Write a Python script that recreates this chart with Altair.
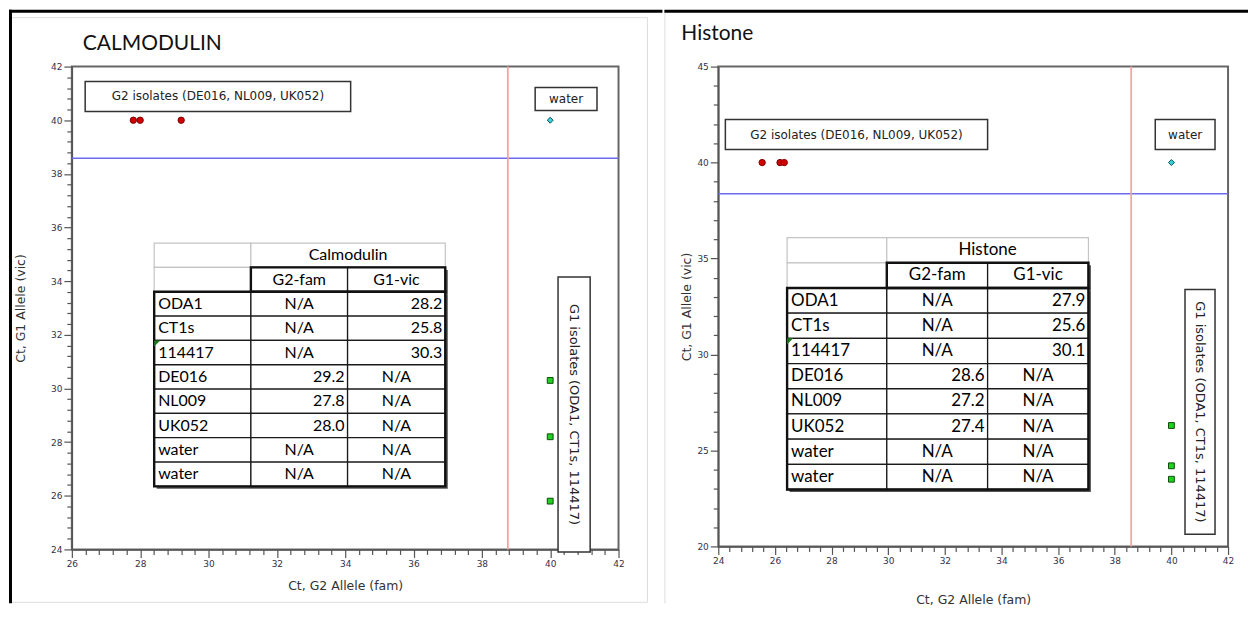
import altair as alt
import pandas as pd

# ---------------- data ----------------
samples = ["ODA1", "CT1s", "114417", "DE016", "NL009", "UK052", "water", "water"]
cal_fam = [None, None, None, 29.2, 27.8, 28.0, None, None]
cal_vic = [28.2, 25.8, 30.3, None, None, None, None, None]
his_fam = [None, None, None, 28.6, 27.2, 27.4, None, None]
his_vic = [27.9, 25.6, 30.1, None, None, None, None, None]

cal_g2_x = [27.8, 28.0, 29.2]
cal_g2_y = [40, 40, 40]
cal_g1_x = [40, 40, 40]
cal_g1_y = [28.2, 25.8, 30.3]
cal_water_x = [40]
cal_water_y = [40]
cal_thr_fam = [38.76]
cal_thr_vic = [38.58]

his_g2_x = [25.55, 26.18, 26.33]
his_g2_y = [40, 40, 40]
his_g1_x = [40, 40, 40]
his_g1_y = [26.3, 24.2, 23.5]
his_water_x = [40]
his_water_y = [40]
his_thr_fam = [38.58]
his_thr_vic = [38.38]

g2_label = "G2 isolates (DE016, NL009, UK052)"
g1_label = "G1 isolates (ODA1, CT1s, 114417)"
water_label = "water"
x_title = "Ct, G2 Allele (fam)"
y_title = "Ct, G1 Allele (vic)"
col_heads = ["G2-fam", "G1-vic"]

# ---------------- layout (positions / styles) ----------------
LEFT = dict(
    title="CALMODULIN", table_title="Calmodulin", fam=cal_fam, vic=cal_vic,
    g2=(cal_g2_x, cal_g2_y), g1=(cal_g1_x, cal_g1_y), water=(cal_water_x, cal_water_y),
    thr=(cal_thr_fam, cal_thr_vic),
    xdom=[26, 42], ydom=[24, 42], w=548, h=484,
    xminor=0.4, xmajor=2, yminor=0.4, ymajor=2,
    title_x=11, title_y=-17, ytp=23, xtp=11,
    cols=[28.41, 31.24, 34.07, 36.93], top=35.42, row_h=0.907, fs=16,
    g2box=[26.39, 34.16, 40.33, 41.44], wbox=[39.56, 41.37, 40.36, 41.22],
    g1box=[40.23, 41.17, 23.9, 34.16],
)
RIGHT = dict(
    title="Histone", table_title="Histone", fam=his_fam, vic=his_vic,
    g2=(his_g2_x, his_g2_y), g1=(his_g1_x, his_g1_y), water=(his_water_x, his_water_y),
    thr=(his_thr_fam, his_thr_vic),
    xdom=[24, 42], ydom=[20, 45], w=511, h=481,
    xminor=0.4, xmajor=2, yminor=1, ymajor=5,
    title_x=-37, title_y=-27, ytp=3, xtp=28,
    cols=[26.43, 29.95, 33.51, 37.07], top=36.09, row_h=1.3125, fs=17,
    g2box=[24.25, 33.51, 40.68, 42.24], wbox=[39.43, 41.54, 40.68, 42.24],
    g1box=[40.48, 41.54, 20.63, 33.39],
)

ONE = pd.DataFrame({"k": [0]})


def tick_values(lo, hi, step):
    n = int(round((hi - lo) / step))
    return [round(lo + i * step, 2) for i in range(n + 1)]


def make_axis(title, dom, minor, major, title_pad):
    t = f"abs(datum.value / {major} - round(datum.value / {major})) < 0.001"
    return alt.Axis(
        title=title,
        values=tick_values(dom[0], dom[1], minor),
        labelExpr=f"({t}) ? format(datum.value, '.0f') : ''",
        tickSize={"condition": {"test": t, "value": 8}, "value": 5},
        labelOverlap=False,
        labelFlush=False,
        labelPadding=2,
        titlePadding=title_pad,
        grid=False,
    )


def rect_deco(x, x2, y, y2, color):
    return alt.Chart(ONE).mark_rect(fill=color, strokeWidth=0).encode(
        x=alt.value(x), x2=alt.value(x2), y=alt.value(y), y2=alt.value(y2))


def panel(p, side):
    xs = alt.Scale(domain=p["xdom"], nice=False, zero=False)
    ys = alt.Scale(domain=p["ydom"], nice=False, zero=False)
    xa = make_axis(x_title, p["xdom"], p["xminor"], p["xmajor"], p["xtp"])
    ya = make_axis(y_title, p["ydom"], p["yminor"], p["ymajor"], p["ytp"])

    def X(f):
        return alt.X(f, type="quantitative", scale=xs, axis=xa)

    def Y(f):
        return alt.Y(f, type="quantitative", scale=ys, axis=ya)

    layers = []
    # page decorations
    if side == "left":
        layers.append(alt.Chart(ONE).mark_rect(filled=False, stroke="#dddddd", strokeWidth=1).encode(
            x=alt.value(-61), x2=alt.value(577), y=alt.value(-49), y2=alt.value(537)))
        layers.append(rect_deco(-63, -60, -57, 538, "black"))
        layers.append(rect_deco(-63, 592, -57, -54, "black"))
    else:
        layers.append(rect_deco(-54, -53, -57, 538, "#dddddd"))
        layers.append(rect_deco(-54, 531, -57, -54, "black"))
    # panel title
    layers.append(alt.Chart(pd.DataFrame({"t": [p["title"]]})).mark_text(
        align="left", baseline="alphabetic", font="Lato", fontSize=21, color="#111111"
    ).encode(x=alt.value(p["title_x"]), y=alt.value(p["title_y"]), text="t"))

    # threshold lines
    layers.append(alt.Chart(pd.DataFrame({"v": p["thr"][1]})).mark_rule(
        color="#6b6bf0", strokeWidth=1.5).encode(y=Y("v")))
    layers.append(alt.Chart(pd.DataFrame({"v": p["thr"][0]})).mark_rule(
        color="#f4a3a3", strokeWidth=1.8).encode(x=X("v")))

    # annotation boxes
    boxes = pd.DataFrame({
        "x": [p["g2box"][0], p["wbox"][0], p["g1box"][0]],
        "x2": [p["g2box"][1], p["wbox"][1], p["g1box"][1]],
        "y": [p["g2box"][2], p["wbox"][2], p["g1box"][2]],
        "y2": [p["g2box"][3], p["wbox"][3], p["g1box"][3]],
    })
    layers.append(alt.Chart(boxes).mark_rect(fill="white", stroke="#333333", strokeWidth=1.5, clip=False).encode(
        x=X("x"), x2="x2", y=Y("y"), y2="y2"))
    htxt = pd.DataFrame({
        "x": [(p["g2box"][0] + p["g2box"][1]) / 2, (p["wbox"][0] + p["wbox"][1]) / 2],
        "y": [(p["g2box"][2] + p["g2box"][3]) / 2, (p["wbox"][2] + p["wbox"][3]) / 2],
        "t": [g2_label, water_label],
    })
    layers.append(alt.Chart(htxt).mark_text(font="DejaVu Sans", fontSize=12, color="#222",
                                            baseline="middle").encode(x=X("x"), y=Y("y"), text="t"))
    vtxt = pd.DataFrame({"x": [(p["g1box"][0] + p["g1box"][1]) / 2],
                         "y": [(p["g1box"][2] + p["g1box"][3]) / 2], "t": [g1_label]})
    layers.append(alt.Chart(vtxt).mark_text(font="DejaVu Sans", fontSize=13, color="#222", angle=90,
                                            baseline="middle").encode(x=X("x"), y=Y("y"), text="t"))

    # points
    layers.append(alt.Chart(pd.DataFrame({"x": p["g2"][0], "y": p["g2"][1]})).mark_point(
        shape="circle", filled=True, fill="#d40000", stroke="#7a0000", strokeWidth=1, size=40, opacity=1
    ).encode(x=X("x"), y=Y("y")))
    layers.append(alt.Chart(pd.DataFrame({"x": p["g1"][0], "y": p["g1"][1]})).mark_point(
        shape="square", filled=True, fill="#22d022", stroke="#0b4d0b", strokeWidth=1, size=34, opacity=1
    ).encode(x=X("x"), y=Y("y")))
    layers.append(alt.Chart(pd.DataFrame({"x": p["water"][0], "y": p["water"][1]})).mark_point(
        shape="diamond", filled=True, fill="#35d0d8", stroke="#0a5560", strokeWidth=1, size=36, opacity=1
    ).encode(x=X("x"), y=Y("y")))

    # table
    c = p["cols"]
    top = p["top"]
    rh = p["row_h"]
    n = len(samples)

    def yt(r):
        return top - r * rh

    def yb(r):
        return top - (r + 1) * rh

    def ym(r):
        return top - (r + 0.5) * rh

    grey = pd.DataFrame([
        dict(x=c[0], x2=c[1], y=yt(0), y2=yb(0)),
        dict(x=c[0], x2=c[1], y=yt(1), y2=yb(1)),
        dict(x=c[1], x2=c[3], y=yt(0), y2=yb(0)),
    ])
    black = [dict(x=c[1], x2=c[2], y=yt(1), y2=yb(1)), dict(x=c[2], x2=c[3], y=yt(1), y2=yb(1))]
    for i in range(n):
        for j in range(3):
            black.append(dict(x=c[j], x2=c[j + 1], y=yt(i + 2), y2=yb(i + 2)))
    black = pd.DataFrame(black)
    outer = pd.DataFrame([
        dict(x=c[0], x2=c[3], y=yt(2), y2=yb(n + 1)),
        dict(x=c[1], x2=c[3], y=yt(1), y2=yb(1)),
    ])
    layers.append(alt.Chart(outer).mark_rect(fill="#555555", xOffset=2.5, x2Offset=2.5, yOffset=2.5, y2Offset=2.5).encode(
        x=X("x"), x2="x2", y=Y("y"), y2="y2"))
    layers.append(alt.Chart(grey).mark_rect(fill="white", stroke="#c4c4c4", strokeWidth=1.2).encode(
        x=X("x"), x2="x2", y=Y("y"), y2="y2"))
    layers.append(alt.Chart(black).mark_rect(fill="white", stroke="#1a1a1a", strokeWidth=1.3).encode(
        x=X("x"), x2="x2", y=Y("y"), y2="y2"))
    layers.append(alt.Chart(outer).mark_rect(filled=False, stroke="#111111", strokeWidth=2.4).encode(
        x=X("x"), x2="x2", y=Y("y"), y2="y2"))

    left_t, center_t, right_t = [], [], []
    center_t.append(dict(x=(c[1] + c[3]) / 2, y=ym(0), t=p["table_title"]))
    center_t.append(dict(x=(c[1] + c[2]) / 2, y=ym(1), t=col_heads[0]))
    center_t.append(dict(x=(c[2] + c[3]) / 2, y=ym(1), t=col_heads[1]))
    for i in range(n):
        r = i + 2
        left_t.append(dict(x=c[0], y=ym(r), t=samples[i]))
        for j, vals in ((1, p["fam"]), (2, p["vic"])):
            v = vals[i]
            if v is None:
                center_t.append(dict(x=(c[j] + c[j + 1]) / 2, y=ym(r), t="N/A"))
            else:
                right_t.append(dict(x=c[j + 1], y=ym(r), t=f"{v:.1f}"))
    common = dict(font="Lato", fontSize=p["fs"], color="#000000", baseline="middle")
    layers.append(alt.Chart(pd.DataFrame(left_t)).mark_text(align="left", dx=4, **common).encode(
        x=X("x"), y=Y("y"), text="t"))
    layers.append(alt.Chart(pd.DataFrame(center_t)).mark_text(align="center", **common).encode(
        x=X("x"), y=Y("y"), text="t"))
    layers.append(alt.Chart(pd.DataFrame(right_t)).mark_text(align="right", dx=-3, **common).encode(
        x=X("x"), y=Y("y"), text="t"))
    # green error-indicator corner on the 114417 cell
    layers.append(alt.Chart(pd.DataFrame({"x": [c[0]], "y": [yt(4)]})).mark_point(
        shape="M0,0L1,0L0,1Z", filled=True, fill="#1f7a1f", strokeWidth=0, size=150, opacity=1
    ).encode(x=X("x"), y=Y("y")))

    return alt.layer(*layers).properties(width=p["w"], height=p["h"])


chart = alt.hconcat(panel(LEFT, "left"), panel(RIGHT, "right"), spacing=0).properties(
    padding=0
).configure_view(
    stroke="#666666", strokeWidth=2
).configure_axis(
    domainColor="#555555", domainWidth=1.5, tickColor="#555555", tickWidth=1.2,
    labelFont="DejaVu Sans", labelFontSize=9, labelColor="#33334d",
    titleFont="DejaVu Sans", titleFontSize=12.5, titleFontWeight="normal", titleColor="#333333",
)

chart.save("out.html", embed_options={"renderer": "svg", "actions": False})
